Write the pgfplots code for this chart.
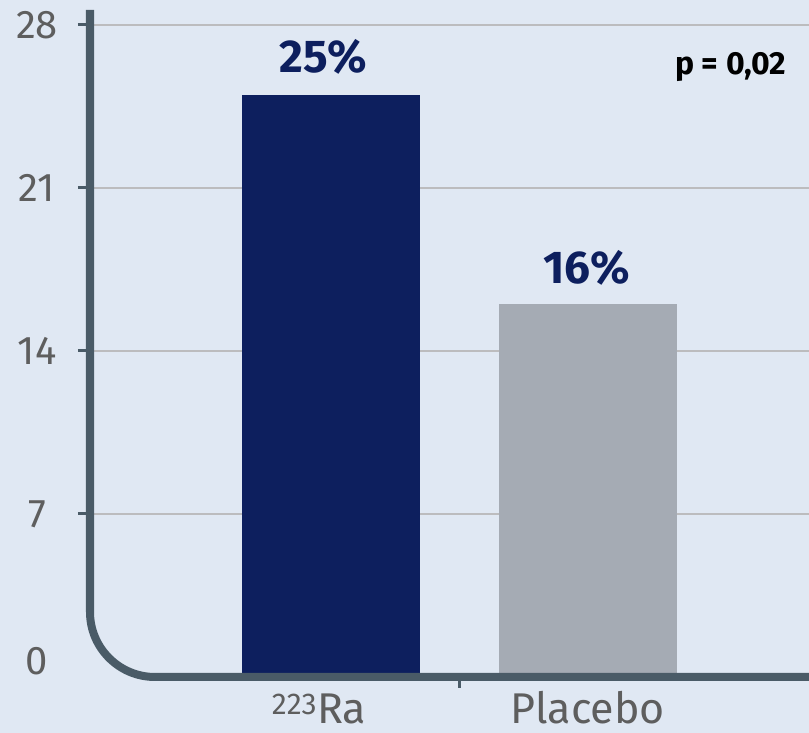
\documentclass[border=0pt]{standalone}
\usepackage{pgfplots}
\pgfplotsset{compat=1.18}
\usepackage{fontspec}
\setmainfont{Fira Sans}

\definecolor{bgc}{RGB}{224,232,243}
\definecolor{navyc}{RGB}{13,31,94}
\definecolor{greybar}{RGB}{165,171,180}
\definecolor{axisc}{RGB}{74,91,103}
\definecolor{gridc}{RGB}{188,188,190}
\definecolor{labelc}{RGB}{94,94,94}

\begin{document}
\begin{tikzpicture}
\fill[bgc] (0,0) rectangle (809pt,733pt);
\useasboundingbox (0,0) rectangle (809pt,733pt);
\begin{axis}[
  at={(90pt,56pt)}, anchor=south west,
  scale only axis, width=719pt, height=667pt,
  xmin=-0.938, xmax=1.86, ymin=0, ymax=28.64,
  clip=false,
  axis x line*=bottom, axis y line*=left,
  axis line style={draw=none},
  /pgf/number format/assume math mode=true,
  ytick={7,14,21,28},
  ymajorgrids,
  grid style={gridc, line width=1.8pt},
  tick align=outside,
  major tick length=12pt,
  ytick style={axisc, line width=3pt},
  yticklabel style={anchor=center, xshift=-41pt, text=labelc,
    font=\fontsize{40}{40}\selectfont},
  xtick={0,1},
  xticklabels={{\textsuperscript{223}Ra\hspace*{24pt}}, Placebo},
  xtick style={draw=none},
  xticklabel style={anchor=base, inner sep=0pt, yshift=-35pt, text=labelc,
    font=\fontsize{43}{43}\selectfont},
]
% Ra-223 arm
\addplot[ybar, bar shift=0pt, bar width=178pt, fill=navyc, draw=none,
  nodes near coords={\pgfmathprintnumber{\pgfplotspointmeta}\%},
  every node near coord/.append style={anchor=base, yshift=22pt, xshift=-8pt,
    text=navyc, font=\bfseries\fontsize{46}{46}\selectfont}]
  coordinates {(0,25)};
% placebo arm
\addplot[ybar, bar shift=0pt, bar width=178pt, fill=greybar, draw=none,
  nodes near coords={\pgfmathprintnumber{\pgfplotspointmeta}\%},
  every node near coord/.append style={anchor=base, yshift=21pt, xshift=-1pt,
    text=navyc, font=\bfseries\fontsize{46}{46}\selectfont}]
  coordinates {(1,16)};

% zero label sits on the baseline
\node[anchor=base, text=labelc, font=\fontsize{40}{40}\selectfont]
  at ([xshift=-53pt,yshift=2pt]axis cs:-0.938,0) {0};
% divider tick between the two groups
\draw[axisc, line width=3pt] (axis cs:0.5,0) -- ([yshift=-11pt]axis cs:0.5,0);
% L-shaped axis with rounded corner
\draw[axisc, line width=8pt, rounded corners=65pt]
  (axis cs:-0.938,28.64) -- (axis cs:-0.938,0) -- (axis cs:1.86,0);
% significance
\node[anchor=base east, font=\bfseries\fontsize{32}{32}\selectfont]
  at ([xshift=-19pt,yshift=-65pt]rel axis cs:1,1) {p = 0,02};
\end{axis}
\end{tikzpicture}
\end{document}
